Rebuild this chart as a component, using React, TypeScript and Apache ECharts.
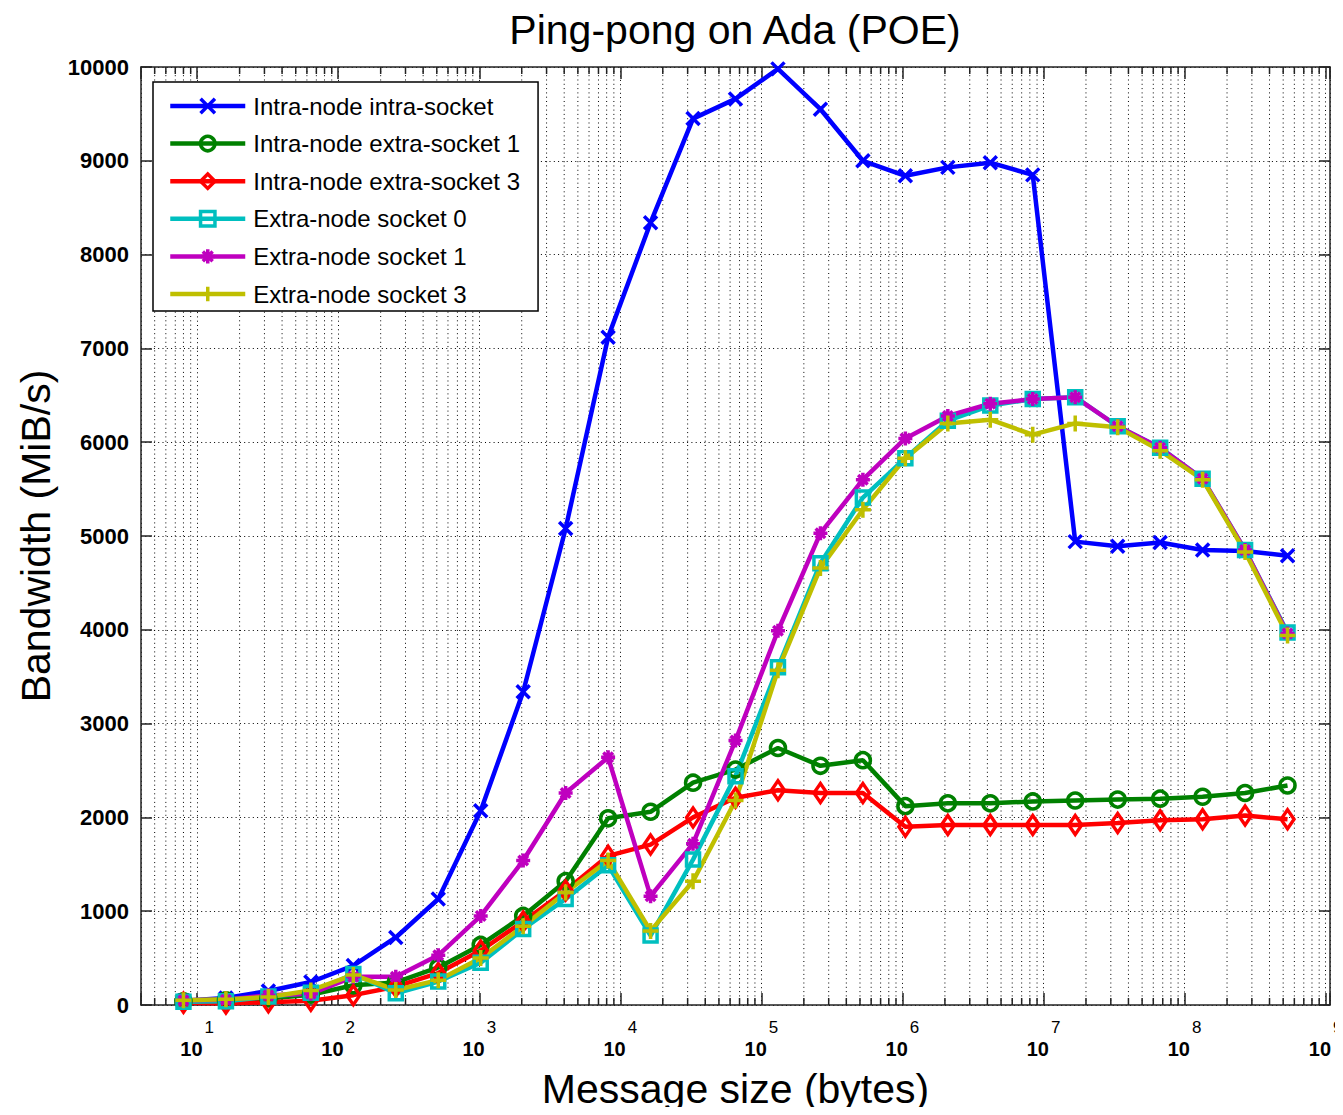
import React, { useEffect, useRef } from 'react';
import * as echarts from 'echarts';

// Message sizes in bytes (powers of two from 8 B to 512 MiB)
const messageSizes = [
  8, 16, 32, 64, 128, 256, 512, 1024, 2048, 4096, 8192, 16384, 32768, 65536,
  131072, 262144, 524288, 1048576, 2097152, 4194304, 8388608, 16777216,
  33554432, 67108864, 134217728, 268435456, 536870912,
];

// Measured bandwidth in MiB/s for each configuration
const intraNodeIntraSocket = [
  45, 75, 150, 245, 420, 720, 1130, 2070, 3340, 5080, 7120, 8340, 9450, 9660,
  9980, 9550, 9000, 8840, 8930, 8980, 8850, 4940, 4890, 4930, 4850, 4840, 4790,
];
const intraNodeExtraSocket1 = [
  40, 50, 70, 110, 210, 240, 400, 640, 950, 1320, 1990, 2060, 2370, 2510,
  2740, 2550, 2610, 2120, 2150, 2150, 2170, 2180, 2190, 2200, 2220, 2260, 2340,
];
const intraNodeExtraSocket3 = [
  25, 15, 30, 45, 105, 195, 340, 580, 890, 1220, 1590, 1710, 2000, 2210,
  2290, 2260, 2260, 1900, 1920, 1920, 1920, 1920, 1940, 1970, 1980, 2020, 1980,
];
const extraNodeSocket0 = [
  35, 40, 90, 130, 330, 125, 250, 450, 810, 1130, 1490, 740, 1550, 2440,
  3600, 4710, 5410, 5830, 6230, 6390, 6460, 6480, 6170, 5940, 5610, 4850, 3970,
];
const extraNodeSocket1 = [
  50, 55, 105, 120, 300, 300, 530, 950, 1540, 2260, 2640, 1160, 1720, 2820,
  3990, 5030, 5600, 6040, 6280, 6410, 6460, 6480, 6170, 5940, 5610, 4850, 3960,
];
const extraNodeSocket3 = [
  50, 60, 85, 155, 320, 160, 265, 500, 840, 1200, 1540, 790, 1320, 2180,
  3570, 4660, 5280, 5830, 6200, 6240, 6080, 6200, 6160, 5910, 5600, 4830, 3940,
];

const seriesNames = [
  'Intra-node intra-socket',
  'Intra-node extra-socket 1',
  'Intra-node extra-socket 3',
  'Extra-node socket 0',
  'Extra-node socket 1',
  'Extra-node socket 3',
];
const seriesValues = [
  intraNodeIntraSocket,
  intraNodeExtraSocket1,
  intraNodeExtraSocket3,
  extraNodeSocket0,
  extraNodeSocket1,
  extraNodeSocket3,
];
const seriesColors = ['#0000ff', '#008000', '#ff0000', '#00bfbf', '#bf00bf', '#bfbf00'];

// Marker shapes: x, o, diamond, square, asterisk, plus
const seriesSymbols = [
  'path://M0,0L10,10M0,10L10,0',
  'circle',
  'diamond',
  'rect',
  'path://M5,0L5,10M0,5L10,5M1.6,1.6L8.4,8.4M1.6,8.4L8.4,1.6',
  'path://M5,0L5,10M0,5L10,5',
];
const seriesSymbolSizes: (number | number[])[] = [13, 15, [13, 19], 13, 14, 16];

const X_MIN = 4;
const X_MAX = 1073741824; // 2^30
const Y_MIN = 0;
const Y_MAX = 10000;
const Y_STEP = 1000;

const LINE_WIDTH = 4.5;
const MARKER_WIDTH = 3.5;

const FONT = '"Liberation Sans", Arial, Helvetica, sans-serif';
const AXIS_COLOR = '#222';
const DOT_STYLE = { color: '#000', width: 1, type: [1, 3.3] as number[] };

// Positions of the logarithmic minor grid lines (2..9 x 10^k) inside the x range
const minorTickValues: number[] = [];
for (let e = 0; e <= 9; e++) {
  for (let m = 2; m <= 9; m++) {
    const v = m * Math.pow(10, e);
    if (v > X_MIN && v < X_MAX) minorTickValues.push(v);
  }
}

function powerLabel(value: number): string {
  const e = Math.round(Math.log10(value));
  if (Math.abs(Math.pow(10, e) - value) / value > 1e-6) return '';
  return `{b|10}{e|${e}}`;
}

export default function App() {
  const ref = useRef<HTMLDivElement>(null);

  useEffect(() => {
    if (!ref.current) return;
    const chart = echarts.init(ref.current, undefined, { renderer: 'svg' });

    const dataSeries = seriesNames.map((name, i) => ({
      type: 'line',
      name,
      data: messageSizes.map((s, j) => [s, seriesValues[i][j]]),
      symbol: seriesSymbols[i],
      symbolSize: seriesSymbolSizes[i],
      symbolKeepAspect: true,
      showSymbol: true,
      lineStyle: { color: seriesColors[i], width: LINE_WIDTH },
      itemStyle: { color: 'none', borderColor: seriesColors[i], borderWidth: MARKER_WIDTH },
      emphasis: { disabled: true },
      z: 3,
    }));

    const minorGrid = {
      type: 'custom',
      name: 'minor-grid',
      silent: true,
      z: 1,
      clip: false,
      data: minorTickValues.map((v) => [v, Y_MIN]),
      renderItem: (_params: any, api: any) => {
        const x = api.value(0);
        const bottom = api.coord([x, Y_MIN]);
        const top = api.coord([x, Y_MAX]);
        return {
          type: 'group',
          children: [
            {
              type: 'line',
              shape: { x1: bottom[0], y1: bottom[1], x2: top[0], y2: top[1] },
              style: { stroke: '#000', lineWidth: 1, lineDash: [1, 3.3] },
            },
            {
              type: 'line',
              shape: { x1: bottom[0], y1: bottom[1], x2: bottom[0], y2: bottom[1] - 7 },
              style: { stroke: AXIS_COLOR, lineWidth: 1.5 },
            },
            {
              type: 'line',
              shape: { x1: top[0], y1: top[1], x2: top[0], y2: top[1] + 7 },
              style: { stroke: AXIS_COLOR, lineWidth: 1.5 },
            },
          ],
        };
      },
    };

    const option: any = {
      animation: false,
      backgroundColor: '#fff',
      title: {
        text: 'Ping-pong on Ada (POE)',
        left: 730,
        top: 4,
        textAlign: 'center',
        textStyle: { fontFamily: FONT, fontSize: 41, fontWeight: 'normal', color: '#000' },
      },
      grid: { left: 141, right: 13, top: 67, bottom: 110, outerBoundsMode: 'none' },
      legend: {
        data: seriesNames,
        orient: 'vertical',
        left: 153,
        top: 82,
        backgroundColor: '#fff',
        borderColor: '#000',
        borderWidth: 1.5,
        padding: [12, 18, 5, 15],
        itemWidth: 75,
        itemHeight: 18,
        itemGap: 13.6,
        selectedMode: false,
        lineStyle: { width: LINE_WIDTH },
        itemStyle: { borderWidth: MARKER_WIDTH },
        textStyle: {
          fontFamily: FONT,
          fontSize: 24,
          lineHeight: 22,
          color: '#000',
          padding: [0, 0, 0, 3],
        },
      },
      xAxis: [
        {
          type: 'log',
          logBase: 10,
          min: X_MIN,
          max: X_MAX,
          splitNumber: 10,
          position: 'bottom',
          name: 'Message size (bytes)',
          nameLocation: 'middle',
          nameGap: 63,
          nameTextStyle: { fontFamily: FONT, fontSize: 41, color: '#000' },
          axisLine: { show: true, onZero: false, lineStyle: { color: AXIS_COLOR, width: 1.5 } },
          axisTick: { show: true, inside: true, length: 12, lineStyle: { color: AXIS_COLOR, width: 1.5 } },
          axisLabel: {
            interval: 0,
            margin: 13.5,
            formatter: powerLabel,
            rich: {
              b: {
                fontFamily: FONT,
                fontSize: 20,
                fontWeight: 'bold',
                color: '#000',
                lineHeight: 40,
                verticalAlign: 'bottom',
              },
              e: {
                fontFamily: FONT,
                fontSize: 17,
                color: '#000',
                verticalAlign: 'top',
                padding: [0, 0, 0, 2],
              },
            },
          },
          splitLine: { show: true, lineStyle: DOT_STYLE },
        },
        {
          type: 'log',
          logBase: 10,
          min: X_MIN,
          max: X_MAX,
          splitNumber: 10,
          position: 'top',
          axisLine: { show: true, onZero: false, lineStyle: { color: AXIS_COLOR, width: 1.5 } },
          axisTick: { show: true, inside: true, length: 12, lineStyle: { color: AXIS_COLOR, width: 1.5 } },
          axisLabel: { show: false },
          splitLine: { show: false },
        },
      ],
      yAxis: [
        {
          type: 'value',
          min: Y_MIN,
          max: Y_MAX,
          interval: Y_STEP,
          position: 'left',
          name: 'Bandwidth (MiB/s)',
          nameLocation: 'middle',
          nameGap: 83,
          nameTextStyle: { fontFamily: FONT, fontSize: 41, color: '#000' },
          axisLine: { show: true, onZero: false, lineStyle: { color: AXIS_COLOR, width: 1.5 } },
          axisTick: { show: true, inside: true, length: 11, lineStyle: { color: AXIS_COLOR, width: 1.5 } },
          axisLabel: {
            margin: 12,
            fontFamily: FONT,
            fontSize: 22,
            fontWeight: 'bold',
            color: '#000',
            formatter: (v: number) => String(v),
          },
          splitLine: { show: true, lineStyle: DOT_STYLE },
        },
        {
          type: 'value',
          min: Y_MIN,
          max: Y_MAX,
          interval: Y_STEP,
          position: 'right',
          axisLine: { show: true, onZero: false, lineStyle: { color: AXIS_COLOR, width: 1.5 } },
          axisTick: { show: true, inside: true, length: 11, lineStyle: { color: AXIS_COLOR, width: 1.5 } },
          axisLabel: { show: false },
          splitLine: { show: false },
        },
      ],
      series: [minorGrid, ...dataSeries],
    };

    chart.setOption(option);
    return () => chart.dispose();
  }, []);

  return <div ref={ref} style={{ width: 1343, height: 1115, margin: -8 }} />;
}
